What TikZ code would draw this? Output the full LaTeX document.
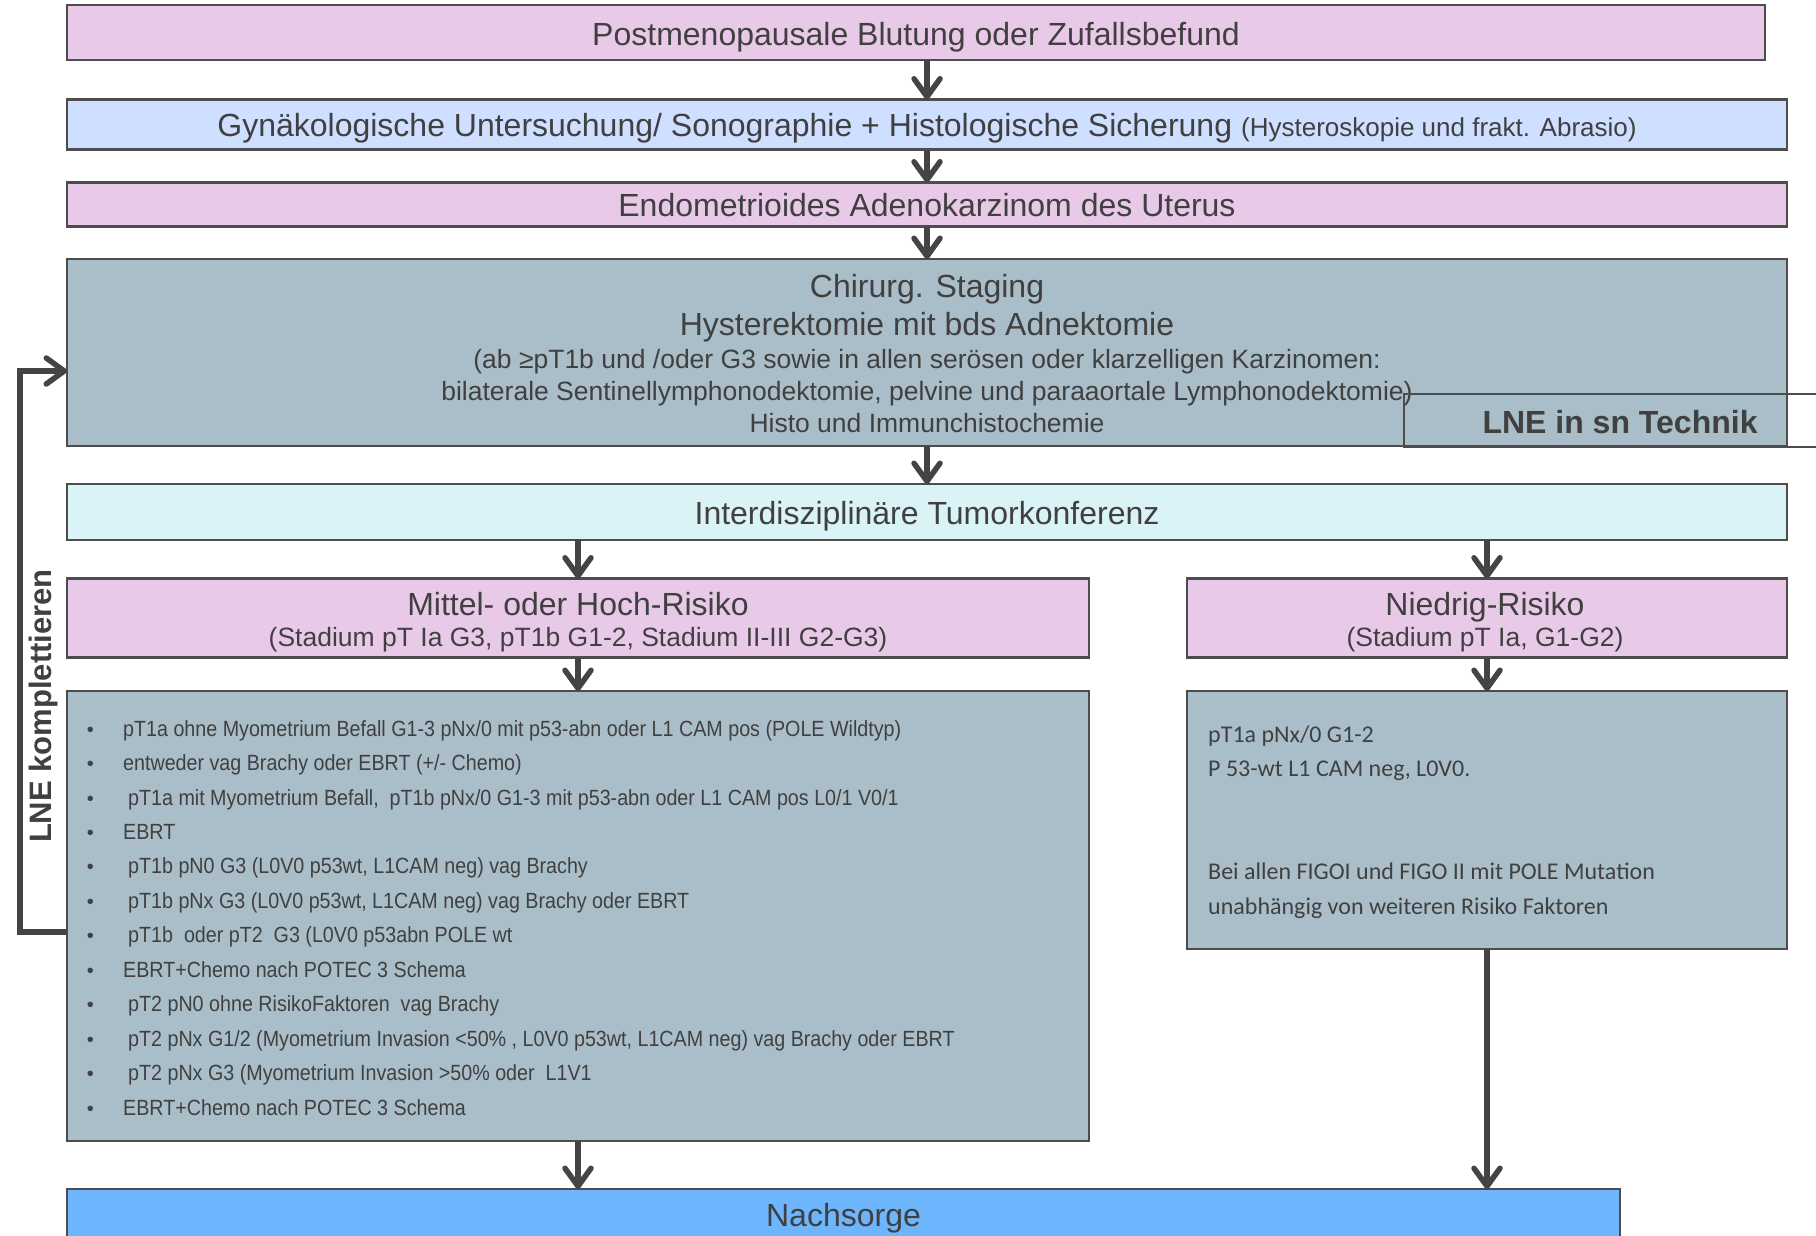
\documentclass[tikz,border=0pt]{standalone}
\usepackage{fontspec}
\setmainfont{Liberation Sans}
\newfontfamily\narrowf[FakeStretch=0.895]{Liberation Sans}
\newfontfamily\calf{Carlito}
\usetikzlibrary{arrows.meta}
\definecolor{pinkc}{RGB}{233,201,232}
\definecolor{bluec}{RGB}{207,223,255}
\definecolor{grayc}{RGB}{169,190,200}
\definecolor{cyanc}{RGB}{218,243,247}
\definecolor{nachc}{RGB}{109,182,253}
\definecolor{txtc}{RGB}{64,64,64}
\definecolor{linec}{RGB}{77,77,77}
\definecolor{arrc}{RGB}{68,68,68}
\begin{document}
\begin{tikzpicture}[x=1pt,y=-1pt,
 box/.style={draw=linec, line width=2.5pt, inner sep=0pt, outer sep=0pt, rectangle},
 big/.style={text=txtc, font=\fontsize{32}{38}\selectfont, inner sep=0pt, anchor=base},
 small/.style={text=txtc, font=\fontsize{26.5}{31}\selectfont, inner sep=0pt, anchor=base},
 item/.style={text=txtc, font=\narrowf\fontsize{22}{26}\selectfont, anchor=base west, inner sep=0pt},
 bul/.style={text=txtc, font=\fontsize{20}{22}\selectfont, inner sep=0pt, anchor=base},
 ritem/.style={text=txtc, font=\calf\fontsize{24}{28}\selectfont, anchor=base west, inner sep=0pt},
 flow/.style={draw=arrc, line width=5.5pt, -{Straight Barb[length=18pt,width=26pt,round]}},
]
\useasboundingbox (0,0) rectangle (1816,1235);
\clip (0,0) rectangle (1816,1235);
\fill[white] (0,0) rectangle (1816,1235);

% boxes
\node[box, fill=pinkc, minimum width=1698pt, minimum height=55pt] (b1) at (916,32.5) {};
\node[box, fill=bluec, minimum width=1720pt, minimum height=50pt] (b2) at (927,124.5) {};
\node[box, fill=pinkc, minimum width=1720pt, minimum height=44pt] (b3) at (927,204.5) {};
\node[box, fill=grayc, minimum width=1720pt, minimum height=187pt] (b4) at (927,352.5) {};
\node[box, fill=cyanc, minimum width=1720pt, minimum height=56pt] (b5) at (927,512) {};
\node[box, fill=pinkc, minimum width=1022pt, minimum height=79pt] (mit) at (578,618) {};
\node[box, fill=pinkc, minimum width=600pt, minimum height=79pt] (nie) at (1487,618) {};
\node[box, fill=grayc, minimum width=1022pt, minimum height=450pt] (ll) at (578,916) {};
\node[box, fill=grayc, minimum width=600pt, minimum height=258pt] (rl) at (1487,820) {};
\node[box, fill=nachc, minimum width=1553pt, minimum height=100pt] (nach) at (843.5,1239) {};

% texts
\node[big] (t1) at (916,45) {Postmenopausale Blutung oder Zufallsbefund};
\node[big] (t2) at (927,136.7) {Gynäkologische Untersuchung/ Sonographie + Histologische Sicherung {\fontsize{26}{31}\selectfont (Hysteroskopie und frakt. Abrasio)}};
\node[big] (t3) at (927,216.7) {Endometrioides Adenokarzinom des Uterus};
\node[big] (t4a) at (927,297.7) {Chirurg. Staging};
\node[big] (t4b) at (927,335) {Hysterektomie mit bds Adnektomie};
\node[small] (t4c) at (927,368.3) {(ab ≥pT1b und /oder G3 sowie in allen serösen oder klarzelligen Karzinomen:};
\node[small] (t4d) at (927,400.7) {bilaterale Sentinellymphonodektomie, pelvine und paraaortale Lymphonodektomie)};
\node[small] (t4e) at (927,432.7) {Histo und Immunchistochemie};
\node[big] (t5) at (927,524) {Interdisziplinäre Tumorkonferenz};
\node[big] (tm1) at (578,615) {Mittel- oder Hoch-Risiko};
\node[small] (tm2) at (578,646) {(Stadium pT Ia G3, pT1b G1-2, Stadium II-III G2-G3)};
\node[big] (tn1) at (1485,615) {Niedrig-Risiko};
\node[small] (tn2) at (1485,646) {(Stadium pT Ia, G1-G2)};
\node[big] (tna) at (843.5,1226) {Nachsorge};

% LNE in sn Technik
\draw[linec, line width=2pt] (1830,394) -- (1404,394) -- (1404,447) -- (1830,447);
\node[text=txtc, font=\bfseries\fontsize{32}{38}\selectfont, inner sep=0pt, anchor=base] (lne) at (1620,433) {LNE in sn Technik};

% left list
\foreach \y/\dx/\t [count=\i] in {
 736/0/{pT1a ohne Myometrium Befall G1-3 pNx/0 mit p53-abn oder L1 CAM pos (POLE Wildtyp)},
 770.5/0/{entweder vag Brachy oder EBRT (+/- Chemo)},
 805/5/{pT1a mit Myometrium Befall,\ \ pT1b pNx/0 G1-3 mit p53-abn oder L1 CAM pos L0/1 V0/1},
 839.3/0/{EBRT},
 873.8/5/{pT1b pN0 G3 (L0V0 p53wt, L1CAM neg) vag Brachy},
 908.2/5/{pT1b pNx G3 (L0V0 p53wt, L1CAM neg) vag Brachy oder EBRT},
 942.7/5/{pT1b\ \ oder pT2\ \ G3 (L0V0 p53abn POLE wt},
 977.1/0/{EBRT+Chemo nach POTEC 3 Schema},
 1011.6/5/{pT2 pN0 ohne RisikoFaktoren\ \ vag Brachy},
 1046/5/{pT2 pNx G1/2 (Myometrium Invasion <50\% , L0V0 p53wt, L1CAM neg) vag Brachy oder EBRT},
 1080.5/5/{pT2 pNx G3 (Myometrium Invasion >50\% oder\ \ L1V1},
 1115/0/{EBRT+Chemo nach POTEC 3 Schema}}
{
 \node[bul] (bu\i) at (90.5,\y) {•};
 \node[item] (li\i) at (123+\dx,\y) {\t};
}

% right list
\node[ritem] (r1) at (1208,742.3) {pT1a pNx/0 G1-2};
\node[ritem] (r2) at (1208,776.7) {P 53-wt L1 CAM neg, L0V0.};
\node[ritem] (r3) at (1208,879.3) {Bei allen FIGOI und FIGO II mit POLE Mutation};
\node[ritem] (r4) at (1208,914.3) {unabhängig von weiteren Risiko Faktoren};

% arrows
\draw[flow] (b2.north |- b1.south) -- (b2.north);
\draw[flow] (b2) -- (b3);
\draw[flow] (b3) -- (b4);
\draw[flow] (b4) -- (b5);
\draw[flow] (mit.north |- b5.south) -- (mit.north);
\draw[flow] (nie.north |- b5.south) -- (nie.north);
\draw[flow] (mit) -- (ll);
\draw[flow] (nie) -- (rl);
\draw[flow] (ll.south) -- (ll.south |- nach.north);
\draw[flow] (rl.south) -- (rl.south |- nach.north);

% loop
\coordinate (lpstart) at ([yshift=-16pt]ll.west);
\coordinate (lpend) at ([yshift=-18.5pt]b4.west);
\draw[draw=arrc, line width=5.5pt, -{Straight Barb[length=18pt,width=26pt,round]}] (lpstart) -- ++(-47,0) |- (lpend);
\node[text=txtc, font=\bfseries\fontsize{31}{36}\selectfont, inner sep=0pt, anchor=base, rotate=90] (lnek) at (51,706) {LNE komplettieren};
\end{tikzpicture}
\end{document}
